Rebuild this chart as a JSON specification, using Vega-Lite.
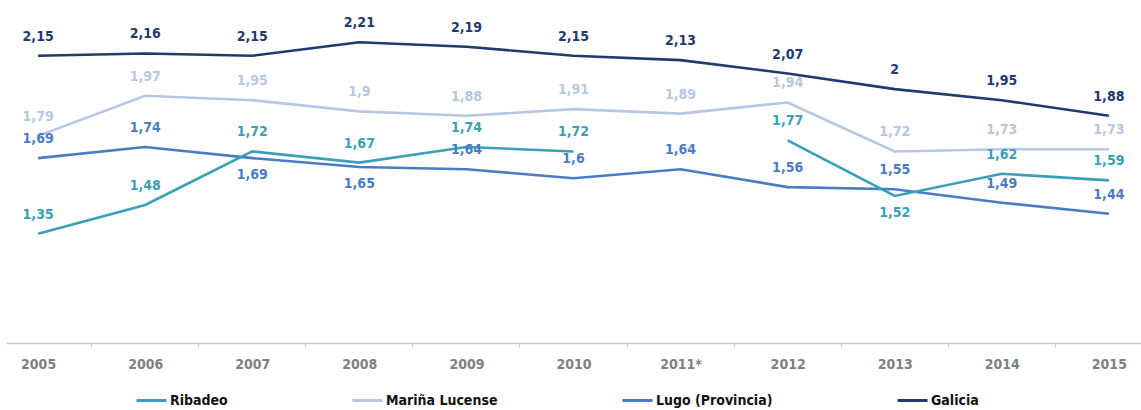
{
  "$schema": "https://vega.github.io/schema/vega-lite/v6.json",
  "autosize": {"type": "none"},
  "padding": {"left": 6, "top": 0, "right": 0, "bottom": 67},
  "width": 1135,
  "height": 343,
  "background": "white",
  "config": {
    "view": {"stroke": null},
    "locale": {"number": {"decimal": ",", "thousands": ".", "grouping": [3], "currency": ["", " €"]}},
    "font": "DejaVu Sans Condensed"
  },
  "data": {
    "values": [
      {"year": "2005", "series": "Galicia", "value": 2.15},
      {"year": "2006", "series": "Galicia", "value": 2.16},
      {"year": "2007", "series": "Galicia", "value": 2.15},
      {"year": "2008", "series": "Galicia", "value": 2.21},
      {"year": "2009", "series": "Galicia", "value": 2.19},
      {"year": "2010", "series": "Galicia", "value": 2.15},
      {"year": "2011*", "series": "Galicia", "value": 2.13},
      {"year": "2012", "series": "Galicia", "value": 2.07},
      {"year": "2013", "series": "Galicia", "value": 2.0},
      {"year": "2014", "series": "Galicia", "value": 1.95},
      {"year": "2015", "series": "Galicia", "value": 1.88},
      {"year": "2005", "series": "Mariña Lucense", "value": 1.79},
      {"year": "2006", "series": "Mariña Lucense", "value": 1.97},
      {"year": "2007", "series": "Mariña Lucense", "value": 1.95},
      {"year": "2008", "series": "Mariña Lucense", "value": 1.9},
      {"year": "2009", "series": "Mariña Lucense", "value": 1.88},
      {"year": "2010", "series": "Mariña Lucense", "value": 1.91},
      {"year": "2011*", "series": "Mariña Lucense", "value": 1.89},
      {"year": "2012", "series": "Mariña Lucense", "value": 1.94},
      {"year": "2013", "series": "Mariña Lucense", "value": 1.72},
      {"year": "2014", "series": "Mariña Lucense", "value": 1.73},
      {"year": "2015", "series": "Mariña Lucense", "value": 1.73},
      {"year": "2005", "series": "Lugo (Provincia)", "value": 1.69},
      {"year": "2006", "series": "Lugo (Provincia)", "value": 1.74},
      {"year": "2007", "series": "Lugo (Provincia)", "value": 1.69},
      {"year": "2008", "series": "Lugo (Provincia)", "value": 1.65},
      {"year": "2009", "series": "Lugo (Provincia)", "value": 1.64},
      {"year": "2010", "series": "Lugo (Provincia)", "value": 1.6},
      {"year": "2011*", "series": "Lugo (Provincia)", "value": 1.64},
      {"year": "2012", "series": "Lugo (Provincia)", "value": 1.56},
      {"year": "2013", "series": "Lugo (Provincia)", "value": 1.55},
      {"year": "2014", "series": "Lugo (Provincia)", "value": 1.49},
      {"year": "2015", "series": "Lugo (Provincia)", "value": 1.44},
      {"year": "2005", "series": "Ribadeo", "value": 1.35},
      {"year": "2006", "series": "Ribadeo", "value": 1.48},
      {"year": "2007", "series": "Ribadeo", "value": 1.72},
      {"year": "2008", "series": "Ribadeo", "value": 1.67},
      {"year": "2009", "series": "Ribadeo", "value": 1.74},
      {"year": "2010", "series": "Ribadeo", "value": 1.72},
      {"year": "2011*", "series": "Ribadeo", "value": null},
      {"year": "2012", "series": "Ribadeo", "value": 1.77},
      {"year": "2013", "series": "Ribadeo", "value": 1.52},
      {"year": "2014", "series": "Ribadeo", "value": 1.62},
      {"year": "2015", "series": "Ribadeo", "value": 1.59}
    ]
  },
  "encoding": {
    "x": {
      "field": "year", "type": "ordinal", "sort": null,
      "scale": {"type": "point", "padding": 0.3},
      "axis": {
        "title": null, "labelAngle": 0,
        "domainColor": "#c8c8c8", "domainWidth": 1.5,
        "tickColor": "#c8c8c8", "tickSize": 4, "tickOffset": 53,
        "labelOffset": -53,
        "labelPadding": 10,
        "labelColor": "#808080", "labelFont": "DejaVu Sans Condensed",
        "labelFontWeight": "bold", "labelFontSize": 14
      }
    },
    "y": {
      "field": "value", "type": "quantitative",
      "scale": {"domain": [0.86, 2.4], "zero": false, "nice": false},
      "axis": null
    },
    "color": {
      "field": "series", "type": "nominal",
      "scale": {
        "domain": ["Ribadeo", "Mariña Lucense", "Lugo (Provincia)", "Galicia"],
        "range": ["#3a9fb8", "#b7c7e3", "#4a7cc6", "#1e3a6e"]
      }
    }
  },
  "layer": [
    {
      "mark": {"type": "line", "strokeWidth": 2.6, "invalid": "break-paths-show-domains"},
      "encoding": {
        "color": {
          "field": "series", "type": "nominal",
          "legend": {
            "title": null, "orient": "none", "legendX": 129, "legendY": 384,
            "direction": "horizontal",
            "symbolType": "stroke", "symbolSize": 900, "symbolStrokeWidth": 3,
            "labelFont": "DejaVu Sans Condensed", "labelFontWeight": "bold",
            "labelFontSize": 14, "labelColor": "#111111", "labelOffset": 2,
            "columnPadding": 118, "gridAlign": "none", "labelLimit": 300
          }
        }
      }
    },
    {
      "transform": [
        {"filter": "datum.value != null && !((datum.series == 'Lugo (Provincia)' && (datum.year == '2007' || datum.year == '2008')) || (datum.series == 'Ribadeo' && datum.year == '2013'))"}
      ],
      "mark": {"type": "text", "dy": -19, "fontWeight": "bold", "fontSize": 14, "font": "DejaVu Sans Condensed", "baseline": "middle"},
      "encoding": {"text": {"field": "value", "type": "quantitative", "format": ".2~f"}}
    },
    {
      "transform": [
        {"filter": "(datum.series == 'Lugo (Provincia)' && (datum.year == '2007' || datum.year == '2008')) || (datum.series == 'Ribadeo' && datum.year == '2013')"}
      ],
      "mark": {"type": "text", "dy": 17, "fontWeight": "bold", "fontSize": 14, "font": "DejaVu Sans Condensed", "baseline": "middle"},
      "encoding": {"text": {"field": "value", "type": "quantitative", "format": ".2~f"}}
    }
  ]
}
